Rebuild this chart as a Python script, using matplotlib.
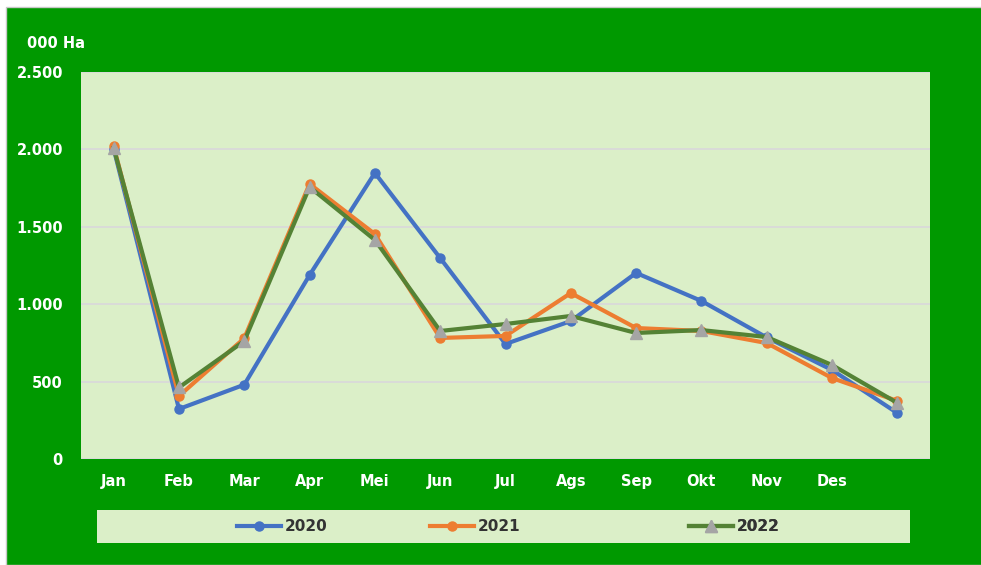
import matplotlib
matplotlib.use("Agg")
import matplotlib.pyplot as plt
from matplotlib.ticker import FuncFormatter, MultipleLocator
from matplotlib.patches import Rectangle

months = ["Jan", "Feb", "Mar", "Apr", "Mei", "Jun", "Jul", "Ags", "Sep", "Okt", "Nov", "Des", ""]
s2020 = [2005, 323, 480, 1188, 1848, 1298, 743, 891, 1202, 1021, 785, 575, 297]
s2021 = [2020, 407, 780, 1777, 1453, 782, 795, 1072, 846, 827, 749, 523, 375]
s2022 = [2010, 462, 762, 1757, 1415, 827, 872, 924, 814, 833, 788, 607, 362]
series_names = ["2020", "2021", "2022"]

W, H = 981, 565
fig = plt.figure(figsize=(W / 100, H / 100), dpi=100, facecolor="white")

# green outer panel
fig.patches.append(Rectangle((6 / W, 0), 1, 1 - 7 / H, transform=fig.transFigure,
                             facecolor="#009900", edgecolor="#c8c8c8", linewidth=1, zorder=-10))

ax = fig.add_axes([81 / W, 1 - 459 / H, (930 - 81) / W, (459 - 72) / H])
ax.set_facecolor("#DBEFC8")
for sp in ax.spines.values():
    sp.set_visible(False)

x = list(range(len(months)))
l1, = ax.plot(x, s2020, color="#4472C4", lw=3, marker="o", ms=6.5,
              markerfacecolor="#4472C4", markeredgecolor="#4472C4", zorder=3, solid_joinstyle="round")
l2, = ax.plot(x, s2021, color="#ED7D31", lw=3, marker="o", ms=6.5,
              markerfacecolor="#ED7D31", markeredgecolor="#ED7D31", zorder=4, solid_joinstyle="round")
l3, = ax.plot(x, s2022, color="#548235", lw=3, marker="^", ms=8.5,
              markerfacecolor="#A5A5A5", markeredgecolor="#A5A5A5", zorder=5, solid_joinstyle="round")

ax.set_xlim(-0.5, len(months) - 0.5)
ax.set_ylim(0, 2500)
ax.yaxis.set_major_locator(MultipleLocator(500))
ax.yaxis.set_major_formatter(FuncFormatter(lambda v, p: f"{v:,.0f}".replace(",", ".")))
ax.grid(axis="y", color="#D9D9D9", lw=1.3, zorder=1)
ax.set_axisbelow(True)
ax.set_xticks(x)
ax.set_xticklabels(months)
ax.tick_params(axis="both", length=0, colors="white", labelsize=10.5)
ax.tick_params(axis="y", pad=13)
ax.tick_params(axis="x", pad=11)
for lab in ax.get_xticklabels() + ax.get_yticklabels():
    lab.set_fontweight("bold")
    lab.set_color("white")

fig.text(27 / W, 1 - 43 / H, "000 Ha", color="white", fontsize=10.5, fontweight="bold",
         ha="left", va="center")

# legend panel
lax = fig.add_axes([97 / W, 1 - 543 / H, (910 - 97) / W, 33 / H])
lax.set_facecolor("#DBEFC8")
lax.set_xticks([])
lax.set_yticks([])
for sp in lax.spines.values():
    sp.set_visible(False)
positions = [(237 - 97) / 813, (430 - 97) / 813, (689 - 97) / 813]
for h, name, px in zip([l1, l2, l3], series_names, positions):
    leg = lax.legend([h], [name], loc="center left", bbox_to_anchor=(px, 0.5),
                     frameon=False, handlelength=2.9, handletextpad=0.25, borderpad=0,
                     borderaxespad=0, prop={"weight": "bold", "size": 11})
    for t in leg.get_texts():
        t.set_color("#333333")
    lax.add_artist(leg)

fig.savefig("out.png", dpi=100, facecolor=fig.get_facecolor())
